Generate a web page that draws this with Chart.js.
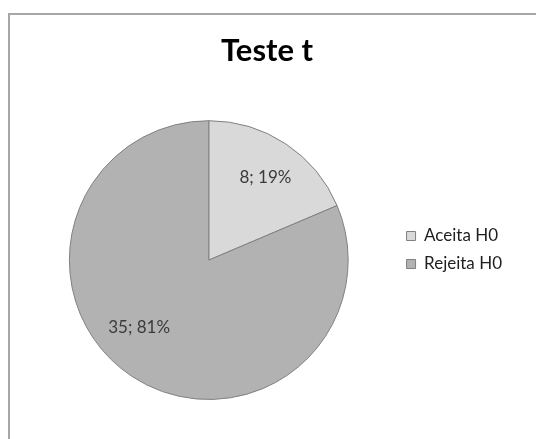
<!DOCTYPE html>
<html>
<head>
<meta charset="utf-8">
<script src="https://cdn.jsdelivr.net/npm/chart.js@4.4.1/dist/chart.umd.min.js"></script>
<style>
  html, body { margin: 0; padding: 0; background: #fff; overflow: hidden; }
  #wrap { position: relative; width: 536px; height: 439px; }
  #frame { position: absolute; left: 8px; top: 13px; width: 600px; height: 500px; border: 2px solid #a6a6a6; box-sizing: border-box; }
  #chart { position: absolute; left: 0; top: 0; }
</style>
</head>
<body>
<div id="wrap">
  <div id="frame"></div>
  <canvas id="chart" width="536" height="439"></canvas>
</div>
<script>
// chart values
const labels = ["Aceita H0", "Rejeita H0"];
const counts = [8, 35];
const sliceColors = ["#d9d9d9", "#b2b2b2"];
const chartTitle = "Teste t";

// label nudges (px) so they sit where Excel put them
const labelNudge = [[2, 0], [-15, -15]];
const legendShift = 50;

// draws "count; pct%" inside each slice
const sliceLabels = {
  id: "sliceLabels",
  afterDatasetsDraw(chart) {
    const ctx = chart.ctx;
    const meta = chart.getDatasetMeta(0);
    const data = chart.data.datasets[0].data;
    const total = data.reduce((a, b) => a + b, 0);
    ctx.save();
    ctx.font = "17px Lato";
    ctx.fillStyle = "#3a3a3a";
    ctx.textAlign = "center";
    ctx.textBaseline = "middle";
    meta.data.forEach((arc, i) => {
      const mid = (arc.startAngle + arc.endAngle) / 2;
      const r = arc.outerRadius * 0.71;
      const x = arc.x + Math.cos(mid) * r + labelNudge[i][0];
      const y = arc.y + Math.sin(mid) * r + labelNudge[i][1];
      const pct = Math.round((data[i] / total) * 100);
      ctx.fillText(data[i] + "; " + pct + "%", x, y);
    });
    ctx.restore();
  }
};

// move legend down next to the pie
const legendOffset = {
  id: "legendOffset",
  afterLayout(chart) {
    if (chart.legend) {
      chart.legend.top += legendShift;
      chart.legend.bottom += legendShift;
    }
  }
};

new Chart(document.getElementById("chart"), {
  type: "pie",
  data: {
    labels: labels,
    datasets: [{
      data: counts,
      backgroundColor: sliceColors,
      borderColor: "#808080",
      borderWidth: 1
    }]
  },
  options: {
    responsive: false,
    animation: false,
    layout: { padding: { left: 22, right: 24, top: 0, bottom: 39 } },
    plugins: {
      title: {
        display: true,
        text: chartTitle,
        color: "#000",
        font: { family: "Lato", size: 31, weight: "bold" },
        padding: { top: 32, bottom: 51 }
      },
      legend: {
        position: "right",
        labels: {
          color: "#1e1e1e",
          font: { family: "Lato", size: 17 },
          boxWidth: 9,
          boxHeight: 9,
          padding: 11
        }
      },
      tooltip: { enabled: false }
    }
  },
  plugins: [sliceLabels, legendOffset]
});
</script>
</body>
</html>
